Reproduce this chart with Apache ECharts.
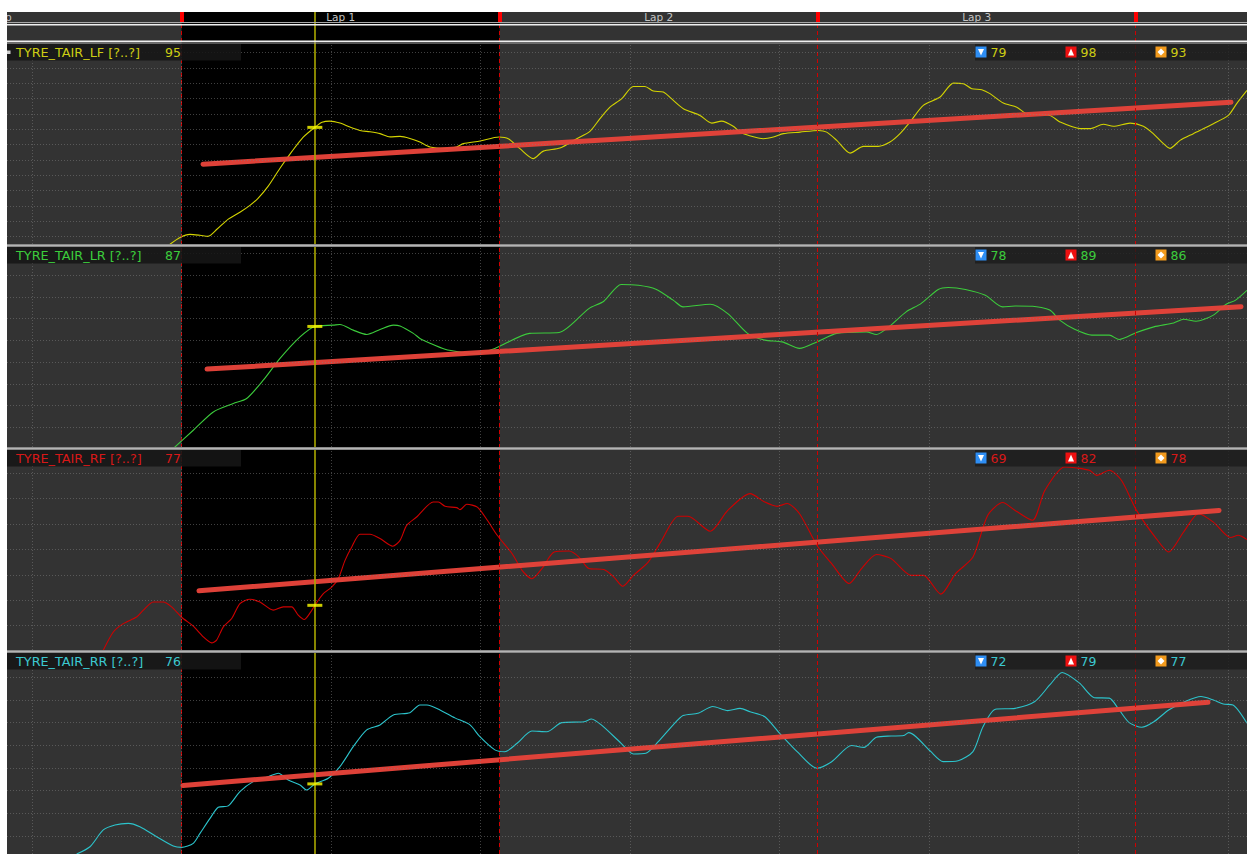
<!DOCTYPE html>
<html>
<head>
<meta charset="utf-8">
<title>TYRE_TAIR</title>
<script src="https://cdn.jsdelivr.net/npm/echarts@6/dist/echarts.min.js"></script>
<style>
  html, body { margin: 0; padding: 0; background: #ffffff; }
  #chart { width: 1247px; height: 854px; }
</style>
</head>
<body>
<div id="chart"></div>
<script>
// ---- distance axis (m) ----
const distMin = 1833;
const distMax = 10127;
const distGrid = [2000, 3000, 4000, 5000, 6000, 7000, 8000, 9000, 10000];
const lapStarts = [450, 3001, 5128, 7255, 9382];
const lapNames = ['Out Lap', 'Lap 1', 'Lap 2', 'Lap 3'];
const selectedLap = 1;
const cursorDist = 3892;

// ---- channel names ----
const channelNames = ['TYRE_TAIR_LF [?..?]', 'TYRE_TAIR_LR [?..?]', 'TYRE_TAIR_RF [?..?]', 'TYRE_TAIR_RR [?..?]'];

// ---- traces: [distance m, air temp °C] ----
const lfTrace = [
  [2923,87.50],[2990,87.95],[3057,88.15],[3124,88.09],[3177,88.02],[3237,88.48],[3311,89.13],[3391,89.59],
  [3458,90.04],[3512,90.50],[3579,91.28],[3659,92.46],[3739,93.56],[3813,94.48],[3892,95.13],[3940,95.46],
  [3993,95.54],[4060,95.41],[4127,95.15],[4194,94.93],[4261,94.84],[4328,94.72],[4395,94.51],[4462,94.54],
  [4528,94.41],[4595,94.17],[4662,93.85],[4763,93.76],[4841,93.85],[4885,94.07],[4997,94.24],[5124,94.50],
  [5186,94.39],[5264,93.74],[5353,93.09],[5420,93.58],[5532,93.78],[5644,94.39],[5732,94.87],[5799,95.70],
  [5866,96.45],[5945,97.00],[6022,97.80],[6100,97.80],[6156,97.50],[6223,97.43],[6290,96.89],[6357,96.35],
  [6468,95.91],[6547,95.41],[6613,95.54],[6691,95.20],[6736,94.82],[6791,94.61],[6892,94.39],[6959,94.50],
  [7026,94.72],[7137,94.82],[7260,94.93],[7316,94.82],[7383,94.28],[7472,93.45],[7561,93.89],[7661,93.89],
  [7739,94.17],[7806,94.72],[7873,95.48],[7962,96.57],[8074,97.11],[8163,98.02],[8230,97.98],[8286,97.65],
  [8353,97.59],[8408,97.33],[8497,96.72],[8587,96.45],[8654,96.02],[8809,95.91],[8876,95.48],[9010,95.05],
  [9077,95.05],[9166,95.33],[9233,95.20],[9345,95.41],[9434,95.20],[9500,94.72],[9559,94.15],[9612,93.76],
  [9679,94.28],[9768,94.72],[9902,95.37],[10002,95.91],[10058,96.68],[10127,97.54]
];
const lrTrace = [
  [2945,81.03],[3079,81.87],[3213,82.71],[3347,83.10],[3436,83.33],[3547,84.17],[3659,85.17],[3793,86.16],
  [3892,86.64],[4015,86.70],[4060,86.73],[4149,86.47],[4239,86.27],[4328,86.50],[4417,86.70],[4462,86.66],
  [4551,86.32],[4595,86.09],[4662,85.87],[4763,85.59],[4863,85.46],[4963,85.39],[5096,85.63],[5328,86.32],
  [5526,86.36],[5725,87.46],[5825,87.80],[5941,88.57],[6057,88.53],[6173,88.35],[6289,87.85],[6355,87.54],
  [6537,87.66],[6654,87.23],[6786,86.32],[6902,86.01],[7018,85.93],[7134,85.63],[7250,85.93],[7383,86.32],
  [7581,86.39],[7648,86.27],[7731,86.62],[7847,87.31],[7946,87.69],[8062,88.34],[8129,88.43],[8244,88.34],
  [8377,88.07],[8493,87.54],[8576,87.58],[8692,87.57],[8808,87.39],[8874,86.93],[8974,86.51],[9090,86.24],
  [9206,86.24],[9272,86.04],[9388,86.36],[9504,86.62],[9637,86.80],[9703,86.97],[9786,86.88],[9902,87.16],
  [9985,87.65],[10051,87.85],[10127,88.30]
];
const rfTrace = [
  [2477,75.03],[2544,75.75],[2611,76.08],[2700,76.34],[2745,76.61],[2811,76.93],[2878,76.93],[2934,76.74],
  [3001,76.33],[3079,75.98],[3146,75.56],[3202,75.32],[3235,75.43],[3280,75.95],[3336,76.28],[3391,76.87],
  [3458,77.04],[3525,76.93],[3614,76.61],[3681,76.74],[3737,76.74],[3781,76.41],[3821,76.24],[3860,76.50],
  [3892,76.80],[3949,77.26],[4005,77.52],[4049,77.85],[4094,78.57],[4139,79.10],[4194,79.60],[4261,79.60],
  [4328,79.43],[4413,79.13],[4462,79.36],[4506,79.95],[4573,80.28],[4684,80.87],[4718,80.87],[4763,80.70],
  [4841,80.65],[4863,80.57],[4908,80.78],[4979,80.67],[5046,80.15],[5112,79.56],[5211,78.84],[5278,78.18],
  [5344,77.85],[5411,78.25],[5493,78.90],[5593,78.94],[5659,78.70],[5725,78.25],[5825,78.21],[5891,77.92],
  [5951,77.55],[6023,77.98],[6123,78.51],[6206,79.30],[6322,80.31],[6388,80.31],[6537,79.72],[6654,80.54],
  [6803,81.20],[6902,80.87],[6985,80.70],[7051,80.81],[7134,80.41],[7250,79.17],[7349,78.44],[7466,77.66],
  [7549,78.25],[7648,78.80],[7747,78.64],[7880,77.98],[7963,77.98],[8079,77.24],[8178,78.05],[8294,78.70],
  [8393,80.35],[8493,80.85],[8576,80.54],[8692,80.15],[8775,81.33],[8907,82.25],[8990,82.21],[9073,82.12],
  [9123,81.92],[9206,82.12],[9288,81.72],[9388,80.54],[9520,79.43],[9603,78.90],[9703,79.69],[9802,80.41],
  [9902,80.08],[10018,79.47],[10068,79.56],[10127,79.39]
];
const rrTrace = [
  [2299,73.21],[2388,73.53],[2477,74.27],[2555,74.49],[2644,74.56],[2722,74.41],[2834,73.97],[2945,73.56],
  [3001,73.50],[3079,73.68],[3124,74.12],[3191,74.78],[3246,75.27],[3313,75.33],[3391,75.96],[3480,76.40],
  [3570,76.59],[3648,76.77],[3714,76.47],[3793,76.25],[3837,76.03],[3892,76.30],[3982,76.55],[4060,77.06],
  [4149,77.94],[4239,78.68],[4328,78.90],[4417,79.34],[4528,79.44],[4595,79.78],[4642,79.78],[4729,79.56],
  [4829,79.21],[4930,78.90],[4996,78.38],[5096,77.80],[5162,77.72],[5245,78.09],[5344,78.63],[5444,78.60],
  [5543,79.00],[5692,79.04],[5742,79.16],[5808,78.90],[5941,78.09],[6023,77.62],[6106,77.65],[6189,78.16],
  [6289,78.90],[6355,79.31],[6454,79.41],[6554,79.71],[6654,79.53],[6736,79.63],[6803,79.48],[6902,79.26],
  [7001,78.53],[7118,77.72],[7250,76.99],[7349,77.28],[7482,77.99],[7565,77.91],[7648,78.36],[7747,78.41],
  [7830,78.43],[7864,78.56],[7913,78.38],[8013,77.72],[8095,77.28],[8195,77.32],[8294,77.72],[8361,78.82],
  [8444,79.59],[8576,79.63],[8708,79.93],[8808,80.66],[8891,81.21],[9007,80.74],[9106,80.10],[9206,80.08],
  [9272,79.56],[9339,79.00],[9423,78.80],[9504,79.04],[9603,79.56],[9703,79.90],[9819,80.15],[9902,80.00],
  [9968,79.82],[10033,79.78],[10127,78.97]
];

// ---- linear trend lines [start, end] ----
const lfTrend = [[3144, 92.73], [10020, 96.77]];
const lrTrend = [[3171, 84.68], [10087, 87.55]];
const rfTrend = [[3117, 77.37], [9940, 80.54]];
const rrTrend = [[3010, 76.23], [9866, 79.90]];

// ---- value grid (°C) ----
const lfTicks = [88, 89, 90, 91, 92, 93, 94, 95, 96, 97, 98, 99, 100];
const lrTicks = [82, 83, 84, 85, 86, 87, 88, 89, 90];
const rfTicks = [76, 77, 78, 79, 80, 81, 82];
const rrTicks = [74, 75, 76, 77, 78, 79, 80, 81];

// ---- statistics: min, max, avg ----
const lfStats = [79, 98, 93];
const lrStats = [78, 89, 86];
const rfStats = [69, 82, 78];
const rrStats = [72, 79, 77];

// ---------------------------------------------------------------
const FONT = '"DejaVu Sans", "Noto Sans", sans-serif';
const W = 1247, H = 854, LEFT = 7;

const panels = [
  { name: channelNames[0], trace: lfTrace, trend: lfTrend, ticks: lfTicks, stats: lfStats,
    line: '#d4d400', text: '#cccc14', top: 44, height: 200, min: 87.52, max: 100.57 },
  { name: channelNames[1], trace: lrTrace, trend: lrTrend, ticks: lrTicks, stats: lrStats,
    line: '#3ccc3c', text: '#3ccc3c', top: 247, height: 200, min: 81.10, max: 90.29 },
  { name: channelNames[2], trace: rfTrace, trend: rfTrend, ticks: rfTicks, stats: rfStats,
    line: '#d00000', text: '#d81818', top: 450, height: 200, min: 75.04, max: 82.92 },
  { name: channelNames[3], trace: rrTrace, trend: rrTrend, ticks: rrTicks, stats: rrStats,
    line: '#2cc4cc', text: '#3cc8d0', top: 653, height: 201, min: 73.21, max: 82.07 }
];

// value of a trace at a given distance (linear between samples)
function valueAt(trace, d) {
  for (let i = 1; i < trace.length; i++) {
    const a = trace[i - 1], b = trace[i];
    if (d >= a[0] && d <= b[0]) {
      const t = (d - a[0]) / (b[0] - a[0] || 1);
      return a[1] + t * (b[1] - a[1]);
    }
  }
  return null;
}

const inView = d => d >= distMin && d <= distMax;
const lapMids = lapNames.map((n, i) => [(lapStarts[i] + lapStarts[i + 1]) / 2, 0.5]);

const grid = [
  { left: LEFT, right: 0, top: 12, bottom: 0, show: true, backgroundColor: '#333333', borderWidth: 0 },
  { left: LEFT, right: 0, top: 12, height: 10, show: false }
];
const xAxis = [
  { type: 'value', gridIndex: 0, min: distMin, max: distMax, show: false },
  { type: 'value', gridIndex: 1, min: distMin, max: distMax, show: false }
];
const yAxis = [
  { type: 'value', gridIndex: 0, min: 0, max: 1, show: false },
  { type: 'value', gridIndex: 1, min: 0, max: 1, show: false }
];

const series = [
  // selected lap shading, lap boundaries and cursor across the whole view
  {
    type: 'line', xAxisIndex: 0, yAxisIndex: 0, data: [], silent: true, z: 1,
    markArea: {
      silent: true,
      itemStyle: { color: '#000000' },
      data: [[{ xAxis: lapStarts[selectedLap] }, { xAxis: lapStarts[selectedLap + 1] }]]
    },
    markLine: {
      silent: true, symbol: 'none', label: { show: false },
      emphasis: { disabled: true },
      data: lapStarts.filter(inView).map(d => ({
        xAxis: d, lineStyle: { color: '#d20000', width: 1, type: [4, 3] }
      })).concat([{ xAxis: cursorDist, lineStyle: { color: '#aaa800', width: 1.6, type: 'solid' } }])
    }
  },
  // lap bar: boundary markers
  {
    type: 'line', xAxisIndex: 1, yAxisIndex: 1, data: [], silent: true, z: 3,
    markLine: {
      silent: true, symbol: 'none', label: { show: false },
      emphasis: { disabled: true },
      lineStyle: { color: '#ff0000', width: 4, type: 'solid' },
      data: lapStarts.filter(inView).map(d => ({ xAxis: d }))
    }
  },
  // lap bar: lap names centred on each lap
  {
    type: 'custom', xAxisIndex: 1, yAxisIndex: 1, clip: true, silent: true, z: 4,
    data: lapMids,
    renderItem: function (params, api) {
      const p = api.coord([api.value(0), api.value(1)]);
      return {
        type: 'text', x: p[0], y: p[1] - 0.5,
        style: {
          text: lapNames[params.dataIndex], fill: '#c4c4c4',
          font: '10.5px ' + FONT, textAlign: 'center', textVerticalAlign: 'middle'
        }
      };
    }
  }
];

const graphic = [];

panels.forEach((p, i) => {
  const gi = i + 2;
  grid.push({ left: LEFT, right: 0, top: p.top, height: p.height, show: false });
  xAxis.push({ type: 'value', gridIndex: gi, min: distMin, max: distMax, show: false });
  yAxis.push({ type: 'value', gridIndex: gi, min: p.min, max: p.max, show: false });

  // dotted value / distance grid
  series.push({
    type: 'line', xAxisIndex: gi, yAxisIndex: gi, data: [], silent: true, z: 2,
    markLine: {
      silent: true, symbol: 'none', label: { show: false },
      emphasis: { disabled: true },
      lineStyle: { color: 'rgba(128,128,128,0.5)', width: 1, type: [1, 2] },
      data: p.ticks.map(t => ({ yAxis: t })).concat(distGrid.map(d => ({ xAxis: d })))
    }
  });
  // channel trace
  series.push({
    type: 'line', name: p.name, xAxisIndex: gi, yAxisIndex: gi, data: p.trace,
    symbol: 'none', showSymbol: false, smooth: 0.25, silent: true, z: 3,
    lineStyle: { color: p.line, width: 1.1 }, itemStyle: { color: p.line }
  });
  // trend line
  series.push({
    type: 'line', xAxisIndex: gi, yAxisIndex: gi, data: p.trend,
    symbol: 'none', showSymbol: false, silent: true, z: 4,
    lineStyle: { color: '#e5433a', width: 5, cap: 'round', opacity: 0.97 }
  });
  // cursor readout marker
  const cursorVal = valueAt(p.trace, cursorDist);
  series.push({
    type: 'scatter', xAxisIndex: gi, yAxisIndex: gi, silent: true, z: 5,
    data: [[cursorDist, cursorVal]],
    symbol: 'rect', symbolSize: [15, 3], itemStyle: { color: '#ffff00' }
  });

  // separator above each lower panel
  if (i > 0) {
    graphic.push({ type: 'rect', silent: true, z: 100,
      shape: { x: LEFT, y: p.top - 3, width: W - LEFT, height: 3 }, style: { fill: '#8a8a8a' } });
    graphic.push({ type: 'rect', silent: true, z: 101,
      shape: { x: LEFT, y: p.top - 2, width: W - LEFT, height: 1 }, style: { fill: '#b4b4b4' } });
  }

  const cy = p.top + 8.5;
  // channel label box
  graphic.push({ type: 'rect', silent: true, z: 100,
    shape: { x: LEFT, y: p.top, width: 234, height: 16.5 }, style: { fill: 'rgba(22,22,22,0.88)' } });
  graphic.push({ type: 'text', silent: true, z: 102, x: 16, y: cy,
    style: { text: p.name, fill: p.text, font: '12.8px ' + FONT, textAlign: 'left', textVerticalAlign: 'middle' } });
  graphic.push({ type: 'text', silent: true, z: 102, x: 181, y: cy,
    style: { text: String(Math.round(cursorVal)), fill: p.text, font: '12.5px ' + FONT,
      textAlign: 'right', textVerticalAlign: 'middle' } });

  // statistics box
  graphic.push({ type: 'rect', silent: true, z: 100,
    shape: { x: 975, y: p.top, width: W - 975, height: 16.5 }, style: { fill: 'rgba(28,28,28,0.8)' } });
  const iconColors = ['#2e8ef4', '#ee1010', '#f29a1c'];
  p.stats.forEach((v, k) => {
    const ix = 975.5 + k * 90, iy = p.top + 2.5;
    graphic.push({ type: 'rect', silent: true, z: 102,
      shape: { x: ix, y: iy, width: 11, height: 11 }, style: { fill: iconColors[k] } });
    let pts;
    if (k === 0) pts = [[ix + 2.5, iy + 2.5], [ix + 8.5, iy + 2.5], [ix + 5.5, iy + 9]];
    else if (k === 1) pts = [[ix + 5.5, iy + 2], [ix + 8.5, iy + 9], [ix + 2.5, iy + 9]];
    else pts = [[ix + 5.5, iy + 2], [ix + 9, iy + 5.5], [ix + 5.5, iy + 9], [ix + 2, iy + 5.5]];
    graphic.push({ type: 'polygon', silent: true, z: 103, shape: { points: pts }, style: { fill: '#ffffff' } });
    graphic.push({ type: 'text', silent: true, z: 102, x: ix + 15, y: cy,
      style: { text: String(v), fill: p.text, font: '12.5px ' + FONT, textAlign: 'left', textVerticalAlign: 'middle' } });
  });
});

// selection bullet of the first channel
graphic.push({ type: 'rect', silent: true, z: 103,
  shape: { x: LEFT, y: 50.5, width: 3.5, height: 3.5 }, style: { fill: '#d0d0d0' } });

// double rules framing the lap bar and the event strip
[[22, 1, '#a8a8a8'], [24, 1.5, '#f0f0f0'], [40.5, 1.5, '#f0f0f0'], [42.5, 1, '#a8a8a8']].forEach(r => {
  graphic.push({ type: 'rect', silent: true, z: 100,
    shape: { x: LEFT, y: r[0], width: W - LEFT, height: r[1] }, style: { fill: r[2] } });
});

const chart = echarts.init(document.getElementById('chart'), null, { renderer: 'svg', width: W, height: H });
chart.setOption({
  animation: false,
  backgroundColor: '#ffffff',
  textStyle: { fontFamily: FONT },
  grid: grid,
  xAxis: xAxis,
  yAxis: yAxis,
  series: series,
  graphic: graphic
});
</script>
</body>
</html>
